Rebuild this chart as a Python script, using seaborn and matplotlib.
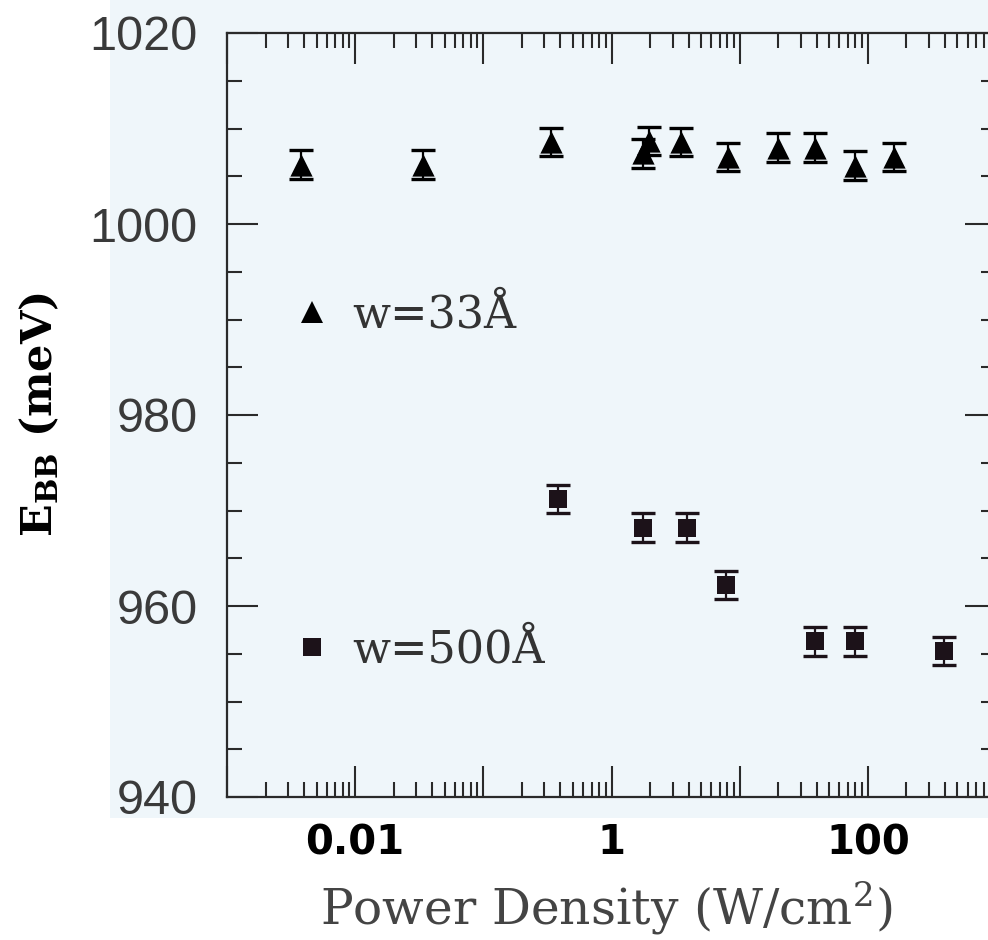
import numpy as np
import pandas as pd
import matplotlib
matplotlib.use("Agg")
import matplotlib.pyplot as plt
import seaborn as sns
from matplotlib.lines import Line2D
from matplotlib.patches import Rectangle
from matplotlib.ticker import FixedLocator, FixedFormatter, LogLocator, NullFormatter, MultipleLocator

# ---- data ----
series_names = ["w=33Å", "w=500Å"]
tri_power = [0.0038, 0.034, 0.34, 1.75, 1.95, 3.46, 8.05, 19.8, 39, 80, 160]
tri_energy = [1006.2, 1006.2, 1008.6, 1007.4, 1008.7, 1008.6, 1007.0, 1008.0, 1008.0, 1006.1, 1007.0]
tri_err = [1.5] * len(tri_power)
sq_power = [0.385, 1.75, 3.9, 7.8, 39, 80, 393]
sq_energy = [971.2, 968.2, 968.2, 962.2, 956.3, 956.3, 955.3]
sq_err = [1.5] * len(sq_power)
x_major_ticks = [0.001, 0.01, 0.1, 1, 10, 100, 1000]
x_tick_labels = ["", "0.01", "", "1", "", "100", ""]
y_major_ticks = [940, 960, 980, 1000, 1020]

df = pd.DataFrame({
    "power": tri_power + sq_power,
    "energy": tri_energy + sq_energy,
    "err": tri_err + sq_err,
    "series": [series_names[0]] * len(tri_power) + [series_names[1]] * len(sq_power),
})

sns.set_style("ticks")
plt.rcParams["font.family"] = ["DejaVu Sans"]
plt.rcParams["mathtext.fontset"] = "dejavuserif"

W, H = 988, 940
fig = plt.figure(figsize=(W / 100, H / 100), dpi=100)
fig.patch.set_facecolor("white")
tint = "#eff6fa"
bg = Rectangle((110 / W, 1 - 818 / H), 1 - 110 / W, 818 / H,
               transform=fig.transFigure, facecolor=tint, edgecolor="none", zorder=-10)
fig.patches.append(bg)

ax = fig.add_axes([227 / W, 1 - 797 / H, (996 - 227) / W, (797 - 33) / H])
ax.set_zorder(1)
ax.set_facecolor(tint)

palette = {series_names[0]: "#000000", series_names[1]: "#1c1219"}
markers = {series_names[0]: "^", series_names[1]: "s"}
sizes_pt = {series_names[0]: 16, series_names[1]: 13}

for name in series_names:
    sub = df[df["series"] == name]
    ax.errorbar(sub["power"], sub["energy"], yerr=sub["err"], fmt="none",
                ecolor=palette[name], elinewidth=1.6, capsize=8.3, capthick=2.4, zorder=2)

for name in series_names:
    sub = df[df["series"] == name]
    sns.scatterplot(data=sub, x="power", y="energy", marker=markers[name],
                    color=palette[name], s=sizes_pt[name] ** 2, linewidth=0,
                    ax=ax, zorder=3, legend=False)

ax.set_xscale("log")
ax.set_xlim(1e-3, 1e3)
ax.set_ylim(940, 1020)

ax.xaxis.set_major_locator(FixedLocator(x_major_ticks))
ax.xaxis.set_major_formatter(FixedFormatter(x_tick_labels))
ax.xaxis.set_minor_locator(LogLocator(base=10, subs=np.arange(2, 10), numticks=20))
ax.xaxis.set_minor_formatter(NullFormatter())
ax.yaxis.set_major_locator(FixedLocator(y_major_ticks))
ax.yaxis.set_minor_locator(MultipleLocator(5))

spine_c = "#2a2a2a"
for s in ax.spines.values():
    s.set_visible(True)
    s.set_color(spine_c)
    s.set_linewidth(1.6)

ax.tick_params(which="both", direction="in", top=True, right=True, color=spine_c, width=1.5)
ax.tick_params(which="major", length=22)
ax.tick_params(which="minor", length=10.5)
ax.tick_params(axis="x", which="major", pad=19)
ax.tick_params(axis="y", which="major", pad=21)

for lab in ax.get_xticklabels():
    lab.set_fontfamily("DejaVu Sans")
    lab.set_fontweight("bold")
    lab.set_fontsize(29)
    lab.set_color("black")
for lab in ax.get_yticklabels():
    lab.set_fontfamily("Liberation Sans")
    lab.set_fontsize(35)
    lab.set_color("#3a3a3a")

ax.set_xlabel("Power Density (W/cm$^{\\mathregular{2}}$)", fontfamily="DejaVu Serif",
              fontsize=35, color="#444444", va="top")
ax.xaxis.set_label_coords(0.493, -0.108)
ax.set_ylabel("$\\mathbf{E_{BB}}$ (meV)", fontfamily="DejaVu Serif", fontweight="bold",
              fontsize=31, color="black")
ax.yaxis.set_label_coords(-0.215, 0.5)

h1 = Line2D([], [], marker="^", ls="none", color=palette[series_names[0]], markersize=16, markeredgewidth=0)
h2 = Line2D([], [], marker="s", ls="none", color=palette[series_names[1]], markersize=13, markeredgewidth=0)
leg_kw = dict(loc="center left", frameon=False, handlelength=0.8, handletextpad=0.5,
              borderpad=0, borderaxespad=0, prop={"family": "DejaVu Serif", "size": 32})
leg1 = ax.legend(handles=[h1], labels=[series_names[0]], bbox_to_anchor=(0.088, 0.631), **leg_kw)
for t in leg1.get_texts():
    t.set_color("#333333")
ax.add_artist(leg1)
leg2 = ax.legend(handles=[h2], labels=[series_names[1]], bbox_to_anchor=(0.088, 0.192), **leg_kw)
for t in leg2.get_texts():
    t.set_color("#333333")

fig.savefig("out.png", dpi=100, facecolor=fig.get_facecolor())
